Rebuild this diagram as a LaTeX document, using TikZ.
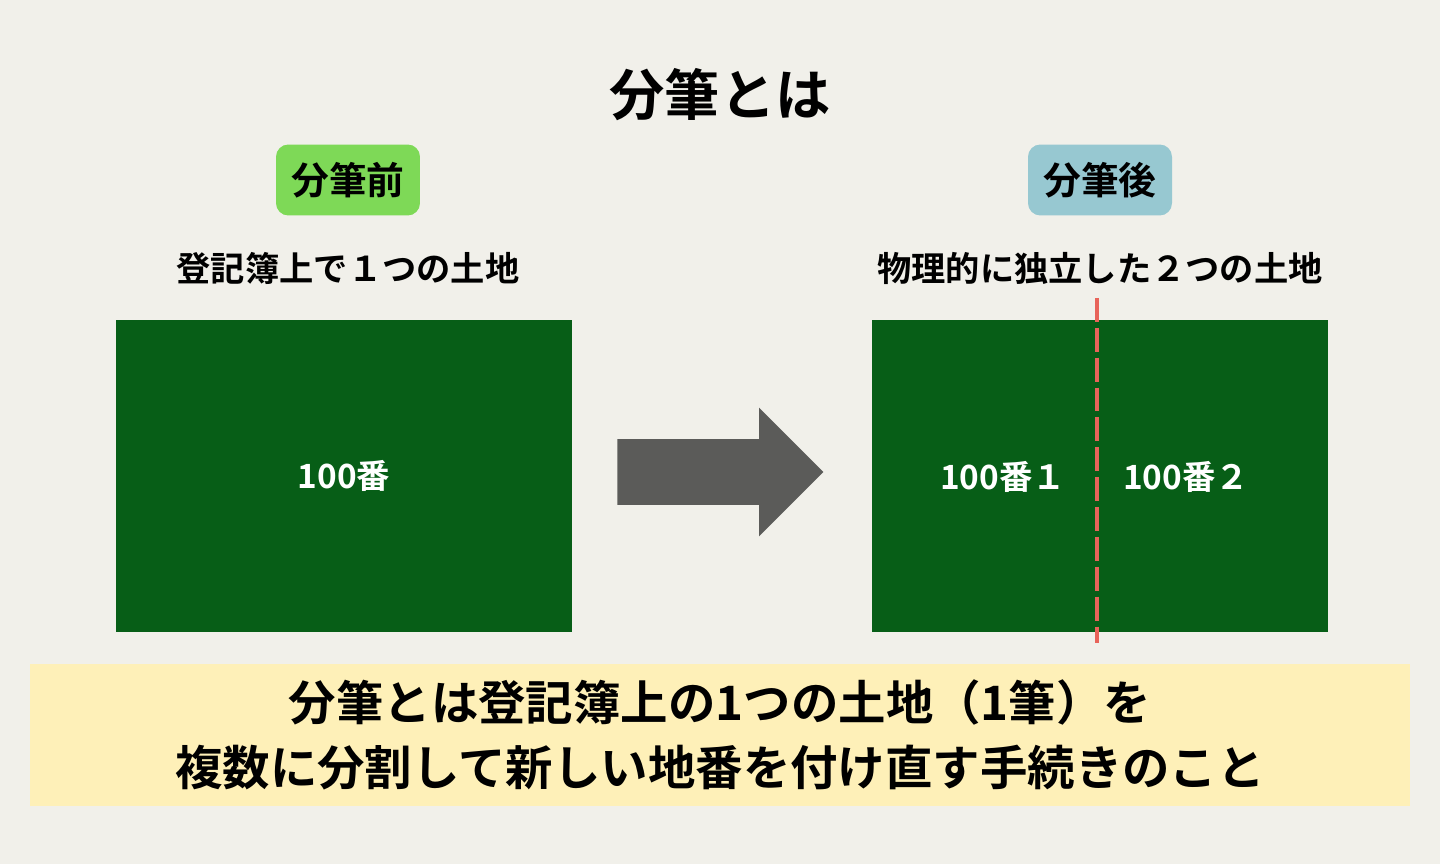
\documentclass[tikz,border=0pt]{standalone}
\usepackage{fontspec}
\setmainfont{Noto Sans CJK JP}[BoldFont={Noto Sans CJK JP Bold}]
\usetikzlibrary{shapes.arrows}
\definecolor{PaperBg}{HTML}{F1F0EA}
\definecolor{LandGreen}{HTML}{075E17}
\definecolor{TagGreen}{HTML}{7ED957}
\definecolor{TagBlue}{HTML}{97C8D1}
\definecolor{ArrowGray}{HTML}{5B5B59}
\definecolor{CutRed}{HTML}{E8645A}
\definecolor{NoteYellow}{HTML}{FEF0B8}

\begin{document}
\begin{tikzpicture}[x=0.02cm, y=-0.02cm,
  tag/.style={rounded corners=7pt, minimum width=2.88cm, minimum height=1.42cm, inner sep=0pt, font=\bfseries\fontsize{21.5}{24}\selectfont},
  sub/.style={font=\bfseries\fontsize{19.5}{22}\selectfont},
  land/.style={fill=LandGreen, minimum width=9.12cm, minimum height=6.24cm, inner sep=0pt, text=white, font=\bfseries\fontsize{19}{22}\selectfont},
  lot/.style={text=white, font=\bfseries\fontsize{19}{22}\selectfont},
  cut/.style={CutRed, line width=2.3pt, dash pattern=on 13.6pt off 3.4pt}
]
\fill[PaperBg] (0,0) rectangle (1440,864);
\useasboundingbox (0,0) rectangle (1440,864);

\node[font=\bfseries\fontsize{31.5}{36}\selectfont] (title) at (720,95) {分筆とは};

% before
\node[tag, fill=TagGreen] (before) at (348,180) {分筆前};
\node[sub] (subL) at (348,268) {登記簿上で１つの土地};
\node[land] (plotL) at (344,476) {100番};

% after
\node[tag, fill=TagBlue] (after) at (1100,180) {分筆後};
\node[sub] (subR) at (1100,268) {物理的に独立した２つの土地};
\node[land] (plotR) at (1100,476) {};
\node[lot] (lot1) at (1003,477) {100番１};
\node[lot] (lot2) at (1186,477) {100番２};
\coordinate (cutTop) at (1097,298);
\coordinate (cutBot) at (1097,643);
\draw[cut] (cutTop) -- (cutBot);

\node[single arrow, fill=ArrowGray, minimum height=4.12cm, minimum width=2.56cm,
  single arrow head extend=0.63cm, inner xsep=0pt, inner ysep=0.65cm] (go) at (704,472) {};

% note
\node[fill=NoteYellow, minimum width=27.6cm, minimum height=2.86cm, align=center,
  font=\bfseries\fontsize{27}{37}\selectfont] (note) at (720,735)
  {分筆とは登記簿上の1つの土地（1筆）を\\複数に分割して新しい地番を付け直す手続きのこと};
\end{tikzpicture}
\end{document}
